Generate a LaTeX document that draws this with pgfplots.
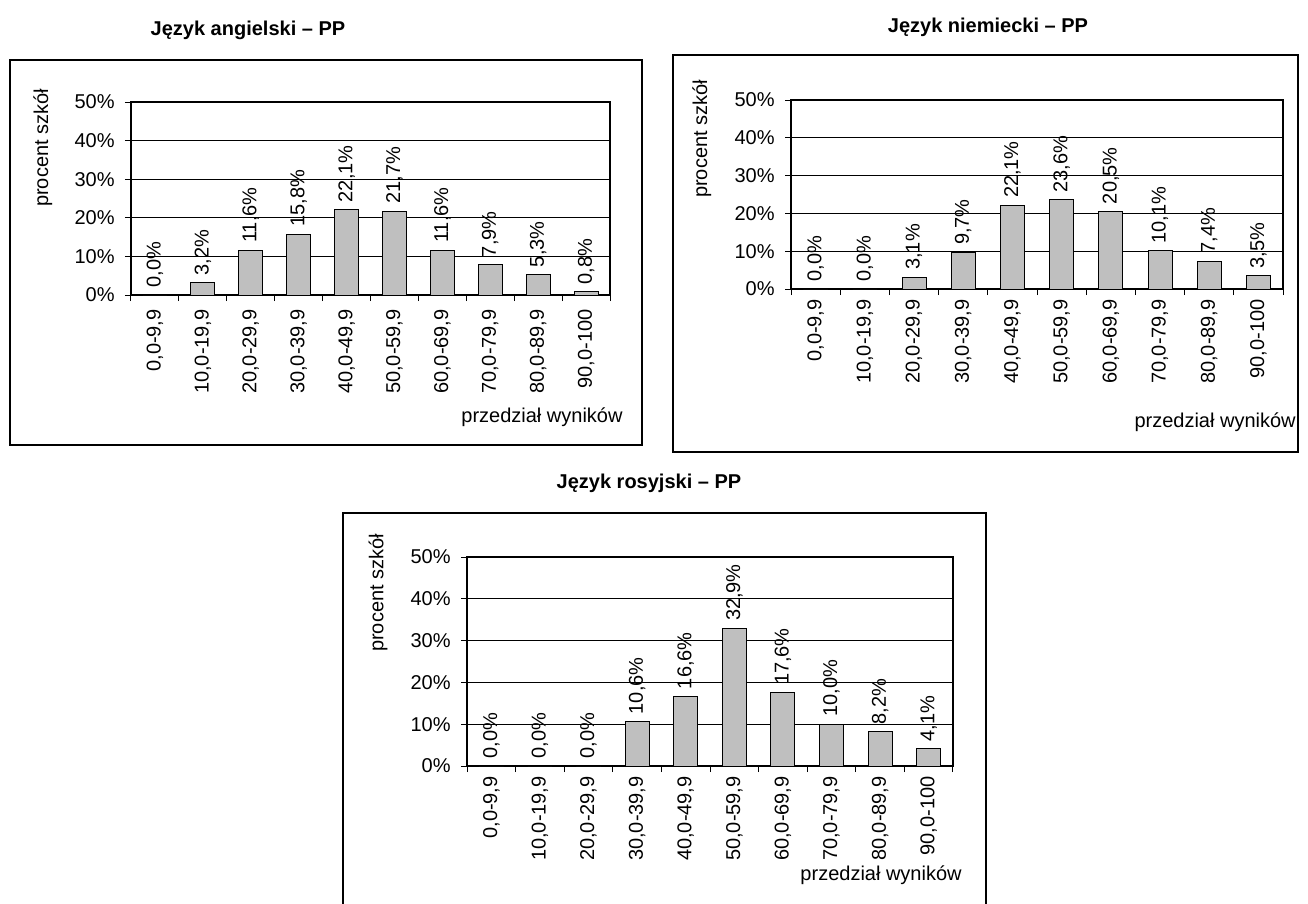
\documentclass[border=0pt]{standalone}
\usepackage{fontspec}
\setmainfont{Liberation Sans}
\usepackage{pgfplots}
\pgfplotsset{compat=1.18}

% 1 px of the reference = 0.5pt
\pgfplotsset{
  hist/.style={
    scale only axis,
    ybar, bar width=12pt, bar shift=0pt,
    xmin=-0.5, xmax=9.5, ymin=0, ymax=50,
    enlargelimits=false,
    /pgf/number format/assume math mode=true,
    axis line style={black, line width=0.6pt},
    tick pos=left,
    tick align=outside, major tick length=3pt,
    tick style={black, line width=0.5pt},
    xtick={-0.5,0.5,...,9.5}, xticklabels={},
    extra x ticks={0,1,...,9},
    extra x tick labels={{0,0-9,9},{10,0-19,9},{20,0-29,9},{30,0-39,9},{40,0-49,9},
      {50,0-59,9},{60,0-69,9},{70,0-79,9},{80,0-89,9},{90,0-100}},
    extra x tick style={major tick length=0pt, grid=none},
    xticklabel style={rotate=90, anchor=east, inner sep=0pt},
    xticklabel shift=5pt,
    ytick={0,10,...,50},
    yticklabels={0\%,10\%,20\%,30\%,40\%,50\%},
    yticklabel style={anchor=east, inner sep=0pt, xshift=-5pt},
    ymajorgrids, major grid style={black, line width=0.5pt},
    nodes near coords={\pgfmathprintnumber[fixed,fixed zerofill,precision=1,use comma]{\pgfplotspointmeta}\%},
    every node near coord/.append style={rotate=90, anchor=west, inner sep=3.5pt, black},
    ylabel={procent szkół},
    xlabel={przedział wyników},
  },
  bars/.style={fill=black!25, draw=black, line width=0.5pt},
}

\begin{document}
\begin{tikzpicture}
\path[use as bounding box] (0,0) rectangle (654pt,-452pt);

% frames
\draw[line width=0.75pt] (5pt,-30pt) rectangle (321pt,-222.5pt);
\draw[line width=0.75pt] (336.5pt,-27.5pt) rectangle (649pt,-226pt);
\draw[line width=0.75pt] (171.5pt,-460pt) -- (171.5pt,-256.5pt) -- (493pt,-256.5pt) -- (493pt,-460pt);

% titles
\node[font=\bfseries] at (124pt,-15pt) {Język angielski – PP};
\node[font=\bfseries] at (494pt,-13.5pt) {Język niemiecki – PP};
\node[font=\bfseries] at (324.5pt,-241.5pt) {Język rosyjski – PP};

\begin{axis}[hist, at={(65.5pt,-147.5pt)}, anchor=south west,
  width=239.5pt, height=96.5pt,
  xticklabel shift=7pt,
  ylabel style={at={(axis description cs:-0.184,0.762)}, anchor=center},
  xlabel style={at={(axis description cs:0.858,-0.632)}, anchor=center}]
\addplot[bars] coordinates {(0,0.0) (1,3.2) (2,11.6) (3,15.8) (4,22.1)
  (5,21.7) (6,11.6) (7,7.9) (8,5.3) (9,0.8)};
\end{axis}

\begin{axis}[hist, at={(395.5pt,-144.5pt)}, anchor=south west,
  width=246pt, height=94.5pt,
  ylabel style={at={(axis description cs:-0.181,0.794)}, anchor=center},
  xlabel style={at={(axis description cs:0.862,-0.704)}, anchor=center}]
\addplot[bars] coordinates {(0,0.0) (1,0.0) (2,3.1) (3,9.7) (4,22.1)
  (5,23.6) (6,20.5) (7,10.1) (8,7.4) (9,3.5)};
\end{axis}

\begin{axis}[hist, at={(233.5pt,-383pt)}, anchor=south west,
  width=243pt, height=104.5pt,
  ylabel style={at={(axis description cs:-0.183,0.828)}, anchor=center},
  xlabel style={at={(axis description cs:0.852,-0.522)}, anchor=center}]
\addplot[bars] coordinates {(0,0.0) (1,0.0) (2,0.0) (3,10.6) (4,16.6)
  (5,32.9) (6,17.6) (7,10.0) (8,8.2) (9,4.1)};
\end{axis}
\end{tikzpicture}
\end{document}
